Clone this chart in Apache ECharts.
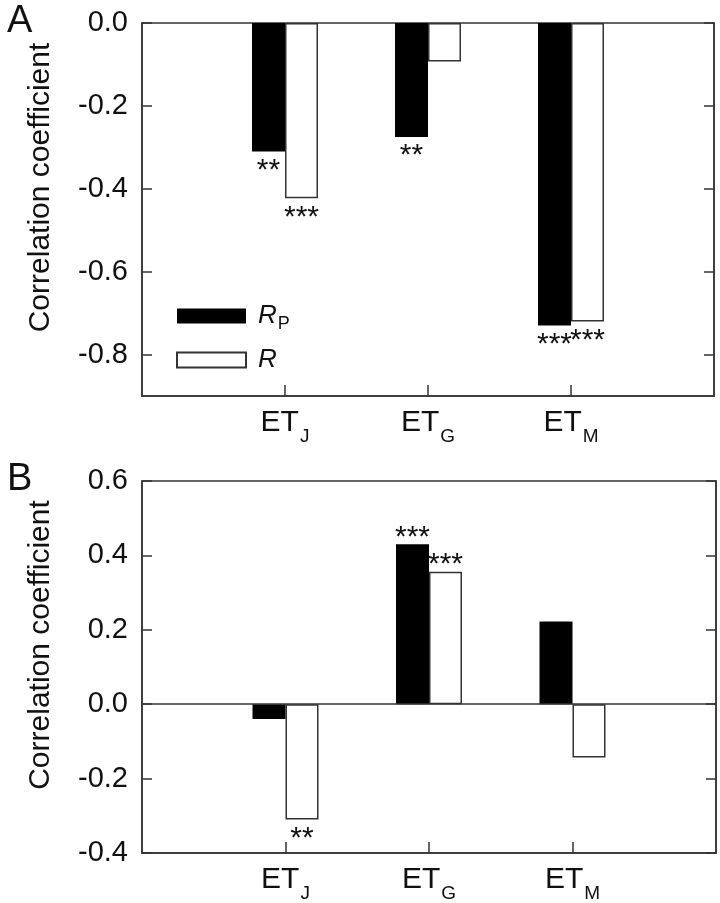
<!DOCTYPE html>
<html>
<head>
<meta charset="utf-8">
<script src="https://cdn.jsdelivr.net/npm/echarts@6/dist/echarts.min.js"></script>
<style>
html,body{margin:0;padding:0;background:#fff;}
#c{width:720px;height:903px;}
</style>
</head>
<body>
<div id="c"></div>
<script>
// ---- data ----
var categories = ['J', 'G', 'M'];          // subscripts of ET
var rpA = [-0.31, -0.275, -0.73];
var rA  = [-0.423, -0.093, -0.72];
var rpB = [-0.04, 0.43, 0.222];
var rB  = [-0.31, 0.356, -0.143];
var starsRpA = ['**', '**', '***'];
var starsRA  = ['***', '', '***'];
var starsRpB = ['', '***', ''];
var starsRB  = ['**', '***', ''];
var ticksA = [0, -0.2, -0.4, -0.6, -0.8];
var ticksB = [0.6, 0.4, 0.2, 0, -0.2, -0.4];

var FONT = 'Liberation Sans, Arial, sans-serif';
var LINE = '#333';
var TXT = '#111';

var cats = [''].concat(categories).concat(['']);
function barData(vals, stars){
  var out = [null];
  vals.forEach(function(v, i){
    out.push({
      value: v,
      label: {
        formatter: stars[i] || '',
        position: v >= 0 ? 'top' : 'bottom',
        offset: v >= 0 ? [0, 12] : [0, 0]
      }
    });
  });
  out.push(null);
  return out;
}

function xAxisCfg(gi){
  return {
    type: 'category', gridIndex: gi, data: cats, boundaryGap: false,
    axisLine: {show: true, onZero: false, lineStyle: {color: LINE, width: 1.5}},
    axisTick: {show: true, inside: true, length: 11, lineStyle: {color: LINE, width: 1.5},
      interval: function(i){ return i >= 1 && i <= 3; }},
    axisLabel: {interval: 0, margin: 4, color: TXT,
      formatter: function(v){ return v ? '{b|ET}{s|' + v + '}' : ''; },
      rich: {
        b: {fontSize: 30, fontFamily: FONT, color: TXT},
        s: {fontSize: 19, fontFamily: FONT, color: TXT, padding: [27, 0, 0, 1]}
      }},
    splitLine: {show: false}
  };
}
function yAxisCfg(gi, min, max, ticks, left){
  var o = {
    type: 'value', gridIndex: gi, min: min, max: max,
    position: left ? 'left' : 'right',
    axisLine: {show: true, lineStyle: {color: LINE, width: 1.5}},
    axisTick: {show: true, inside: true, length: 10, customValues: ticks, lineStyle: {color: LINE, width: 1.5}},
    axisLabel: {show: left, customValues: ticks, margin: 14, color: TXT, fontSize: 29, fontFamily: FONT,
      formatter: function(v){ return (Math.abs(v) < 1e-9 ? 0 : v).toFixed(1); }},
    splitLine: {show: false}
  };
  if (left) {
    o.name = 'Correlation coefficient';
    o.nameLocation = 'middle';
    o.nameGap = 86;
    o.nameTextStyle = {fontSize: 30, fontFamily: FONT, color: TXT, padding: [0, 0, 0, 44]};
  }
  return o;
}
var labelBase = {show: true, distance: 4, fontSize: 30, fontFamily: FONT, color: TXT};

var blackStyle = {color: '#000'};
var whiteStyle = {color: '#fff', borderColor: LINE, borderWidth: 1.5};

var option = {
  animation: false,
  backgroundColor: '#fff',
  textStyle: {fontFamily: FONT},
  title: [
    {text: 'A', left: 2, top: -2, textStyle: {fontSize: 38, fontWeight: 'normal', color: TXT, fontFamily: FONT}},
    {text: 'B', left: 2, top: 456, textStyle: {fontSize: 38, fontWeight: 'normal', color: TXT, fontFamily: FONT}}
  ],
  legend: {
    orient: 'vertical', left: 171, top: 298, itemWidth: 69, itemHeight: 15, itemGap: 14,
    icon: 'rect',
    data: ['Rp', 'R'],
    formatter: function(n){ return n === 'Rp' ? '{i|R}{s|P}' : '{i|R}{s| }'; },
    textStyle: {color: TXT, padding: [0, 0, 0, 7],
      rich: {
        i: {fontSize: 26, fontStyle: 'italic', fontFamily: FONT, color: TXT},
        s: {fontSize: 18, fontFamily: FONT, color: TXT, padding: [16, 0, 0, 1]}
      }}
  },
  grid: [
    {left: 142, top: 23, width: 572, height: 373, show: true, borderColor: LINE, borderWidth: 1.5},
    {left: 142, top: 481, width: 574, height: 372, show: true, borderColor: LINE, borderWidth: 1.5}
  ],
  xAxis: [xAxisCfg(0), xAxisCfg(1)],
  yAxis: [
    yAxisCfg(0, -0.9, 0, ticksA, true),
    yAxisCfg(0, -0.9, 0, ticksA, false),
    yAxisCfg(1, -0.4, 0.6, ticksB, true),
    yAxisCfg(1, -0.4, 0.6, ticksB, false)
  ],
  series: [
    {name: 'Rp', type: 'bar', xAxisIndex: 0, yAxisIndex: 0, data: barData(rpA, starsRpA), barWidth: 33, barGap: '0%',
      itemStyle: blackStyle, label: labelBase},
    {name: 'R', type: 'bar', xAxisIndex: 0, yAxisIndex: 0, data: barData(rA, starsRA), barWidth: 33, barGap: '0%',
      itemStyle: whiteStyle, label: labelBase},
    {name: 'Rp', type: 'bar', xAxisIndex: 1, yAxisIndex: 2, data: barData(rpB, starsRpB), barWidth: 33, barGap: '0%',
      itemStyle: blackStyle, label: labelBase},
    {name: 'R', type: 'bar', xAxisIndex: 1, yAxisIndex: 2, data: barData(rB, starsRB), barWidth: 33, barGap: '0%',
      itemStyle: whiteStyle, label: labelBase,
      markLine: {silent: true, symbol: 'none', label: {show: false},
        lineStyle: {color: LINE, width: 1.5, type: 'solid'}, data: [{yAxis: 0}]}}
  ]
};

var chart = echarts.init(document.getElementById('c'), null, {renderer: 'canvas'});
chart.setOption(option);
</script>
</body>
</html>
